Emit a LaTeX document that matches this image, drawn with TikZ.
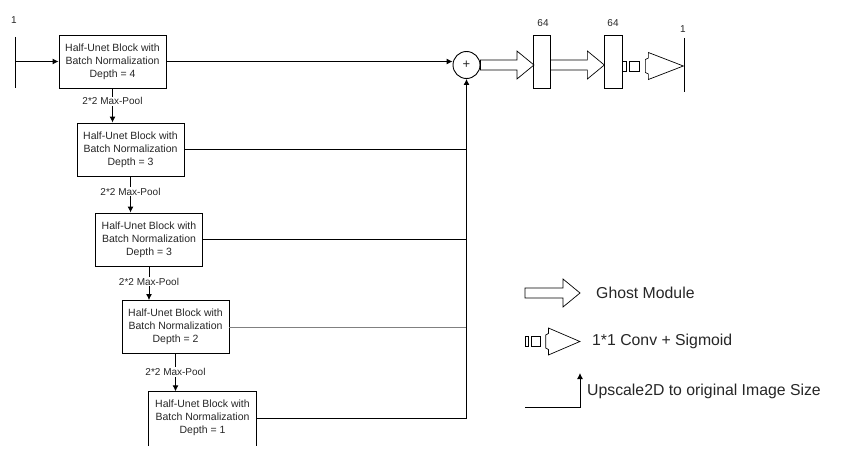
\documentclass[tikz,border=0pt]{standalone}
\usepackage{fontspec}
\setmainfont{Liberation Sans}
\usetikzlibrary{arrows.meta}
\definecolor{txt}{HTML}{262626}
\tikzset{
  x=1pt, y=-1pt,
  every node/.style={text=txt, inner sep=0pt},
  block/.style={draw, line width=0.9pt, minimum width=107pt, minimum height=53pt, align=center,
    font=\fontsize{10.5}{13}\selectfont},
  openblock/.style={minimum width=107pt, minimum height=53pt, align=center,
    font=\fontsize{10.5}{13}\selectfont},
  lbl/.style={font=\fontsize{10}{12}\selectfont, fill=white, inner sep=1pt},
  small/.style={font=\fontsize{10}{12}\selectfont},
  legend/.style={font=\fontsize{15.8}{18}\selectfont, anchor=west},
  conn/.style={line width=0.9pt},
  arr/.style={line width=0.9pt, -{Latex[length=6pt,width=6pt]}},
  fm/.style={draw, line width=0.7pt, minimum width=17pt, minimum height=53pt},
  ghost/.pic={
    \draw[line width=0.7pt] (0,-5) -- (#1,-5) -- (#1,-14) -- (#1+17,0) -- (#1,14) -- (#1,5) -- (0,5) -- cycle;
  },
  convsig/.pic={
    \draw[line width=0.7pt] (0,-5) rectangle (4,5);
    \draw[line width=0.7pt] (7,-5) rectangle (17,5);
    \draw[line width=0.7pt] (26,-13.5) -- (26,-8) -- (23,-6.5) -- (23,6.5) -- (26,8) -- (26,13.5) -- (61,0) -- cycle;
  }
}
\begin{document}
\begin{tikzpicture}
\useasboundingbox (0,0) rectangle (856,452);

% blocks
\node[block] (b1) at (112.5,61.5) {Half-Unet Block with\\Batch Normalization\\Depth = 4};
\node[block] (b2) at (130.5,149.5) {Half-Unet Block with\\Batch Normalization\\Depth = 3};
\node[block] (b3) at (149,239.5) {Half-Unet Block with\\Batch Normalization\\Depth = 3};
\node[block] (b4) at (175.5,327) {Half-Unet Block with\\Batch Normalization\\Depth = 2};
\node[openblock] (b5) at (202.5,418) {Half-Unet Block with\\Batch Normalization\\Depth = 1};
\draw[line width=0.9pt] ([yshift=-1.5pt]b5.south west) -- (b5.north west) -- (b5.north east) -- ([yshift=-1.5pt]b5.south east);

% input
\coordinate (int) at (15,37);
\coordinate (inb) at (15,88);
\coordinate (in) at (15,61.5);
\draw[conn] (int) -- (inb);
\node[small] (inlbl) at (14,20) {1};
\draw[arr] (in) -- (b1.west);

% max-pool connectors
\draw[arr] (b1.south) -- (b1.south |- b2.north) node[lbl, pos=0.38] (mp1) {2*2 Max-Pool};
\draw[arr] (b2.south) -- (b2.south |- b3.north) node[lbl, pos=0.42] (mp2) {2*2 Max-Pool};
\draw[arr] (b3.south) -- (b3.south |- b4.north) node[lbl, pos=0.45] (mp3) {2*2 Max-Pool};
\draw[arr] (b4.south) -- (b4.south |- b5.north) node[lbl, pos=0.48] (mp4) {2*2 Max-Pool};

% sum
\node[draw, circle, line width=0.9pt, minimum size=27pt, font=\fontsize{13}{15}\selectfont] (sum) at (466.5,65) {+};
\draw[arr] (b1.east) -- (b1.east -| sum.west);
\draw[conn] (b2.east) -- (b2.east -| sum.south);
\draw[conn] (b3.east) -- (b3.east -| sum.south);
\draw[conn, draw=gray] (b4.east) -- (b4.east -| sum.south);
\draw[conn] (b5.east) -- (b5.east -| sum.south);
\draw[arr] (b5.east -| sum.south) -- (sum.south);

% feature maps
\node[fm] (r1) at (541.5,61.5) {};
\node[fm, minimum width=18pt] (r2) at (613,61.5) {};
\node[small] (l64a) at (543,23) {64};
\node[small] (l64b) at (613,23) {64};
\pic at (sum.east |- 0,65) {ghost=36.5};
\pic at (r1.east |- 0,65) {ghost=37};
\pic at (r2.east |- 0,66) {convsig};

% output
\coordinate (outt) at (684,38);
\coordinate (outb) at (684,92);
\draw[conn] (outt) -- (outb);
\node[small] (outlbl) at (683,29) {1};

% legend
\pic at (525,293) {ghost=38};
\node[legend] (lg1) at (596,293) {Ghost Module};
\pic[xscale=0.9] at (525,341.5) {convsig};
\node[legend] (lg2) at (592,341) {1*1 Conv + Sigmoid};
\coordinate (ua) at (525,407);
\coordinate (ub) at (580,407);
\coordinate (uc) at (580,373);
\draw[arr] (ua) -- (ub) -- (uc);
\node[legend] (lg3) at (587,391) {Upscale2D to original Image Size};
\end{tikzpicture}
\end{document}
